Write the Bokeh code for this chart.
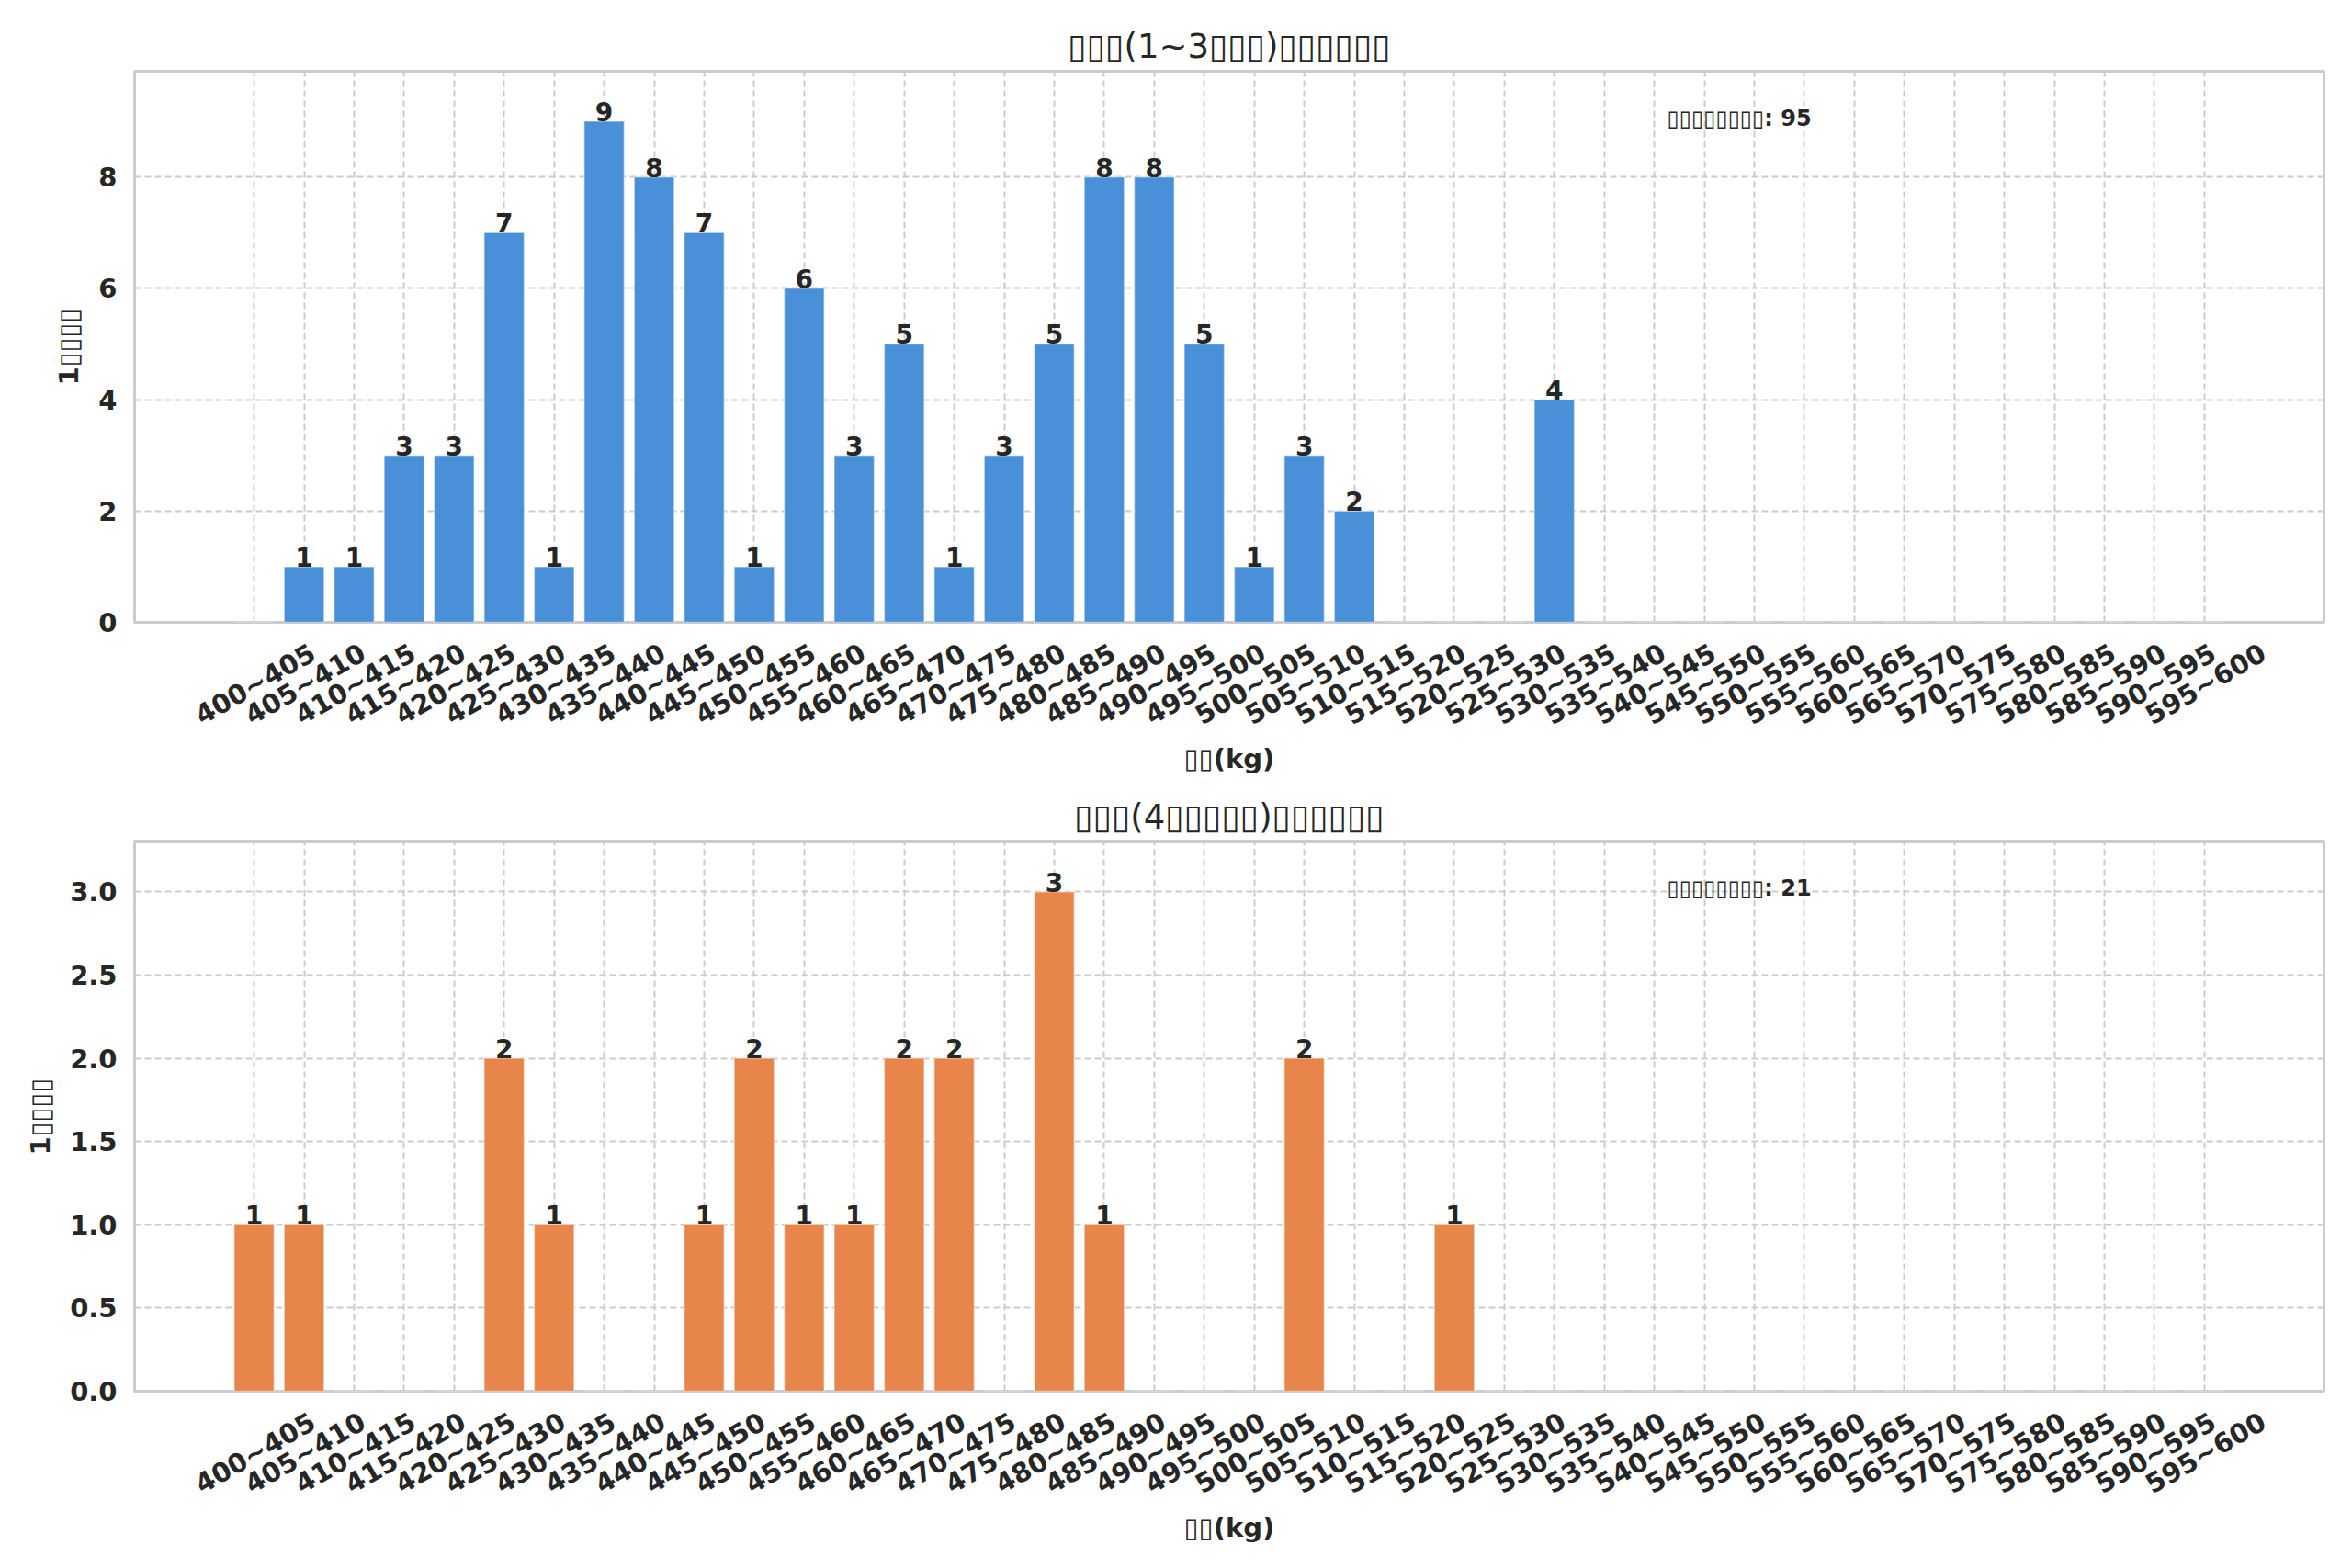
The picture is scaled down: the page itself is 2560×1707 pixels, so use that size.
import math
from bokeh.plotting import figure
from bokeh.models import Range1d, FixedTicker, CustomJSTickFormatter, ColumnDataSource
from bokeh.layouts import column
from bokeh.embed import file_html
from bokeh.resources import INLINE
from bokeh.core.properties import value

# ---------------- data ----------------
categories = ["%d~%d" % (400 + 5 * i, 405 + 5 * i) for i in range(40)]

counts_top = [0, 1, 1, 3, 3, 7, 1, 9, 8, 7, 1, 6, 3, 5, 1, 3, 5, 8, 8, 5,
              1, 3, 2, 0, 0, 0, 4, 0, 0, 0, 0, 0, 0, 0, 0, 0, 0, 0, 0, 0]
counts_bottom = [1, 1, 0, 0, 0, 2, 1, 0, 0, 1, 2, 1, 1, 2, 2, 0, 3, 1, 0, 0,
                 0, 2, 0, 0, 1, 0, 0, 0, 0, 0, 0, 0, 0, 0, 0, 0, 0, 0, 0, 0]

T = "\u25af"
title_top = T * 3 + "(1~3" + T * 3 + ")" + T * 6
title_bottom = T * 3 + "(4" + T * 5 + ")" + T * 6
xlabel = T * 2 + "(kg)"
ylabel = "1" + T * 4
note_label = T * 8

yticks_top = [0, 2, 4, 6, 8]
yticks_bottom = [0.0, 0.5, 1.0, 1.5, 2.0, 2.5, 3.0]

FONT = "DejaVu Sans"
TXT = "#262626"
LABEL_OFF = 1.18


def make_fig(counts, color, title, yticks, yfmt, height, border_top, border_bottom):
    n = len(categories)
    pad = 0.05 * (n - 1 + 0.8)
    xr = Range1d(-0.4 - pad, n - 1 + 0.4 + pad)
    ymax = max(counts) * 1.1
    yr = Range1d(0, ymax)
    p = figure(width=2560, height=height, x_range=xr, y_range=yr,
               output_backend="svg", toolbar_location=None,
               min_border_left=146, min_border_right=31,
               min_border_top=border_top, min_border_bottom=border_bottom)
    p.background_fill_color = "white"
    p.border_fill_color = "white"
    p.outline_line_color = "#cccccc"
    p.outline_line_width = 3

    p.title.text = title
    p.title.align = "center"
    p.title.text_font = FONT
    p.title.text_font_size = "37px"
    p.title.text_font_style = "normal"
    p.title.text_color = TXT
    p.title.standoff = 12

    xs = list(range(n))
    src = ColumnDataSource(dict(x=xs, top=counts))
    p.vbar(x="x", top="top", width=0.8, source=src, fill_color=color,
           line_color="white", line_alpha=0.45, line_width=1.5)

    lx = [i for i in xs if counts[i] > 0]
    ly = [counts[i] for i in lx]
    lt = [str(counts[i]) for i in lx]
    p.text(x=lx, y=ly, text=lt, text_align="center", text_baseline="bottom",
           text_font=value(FONT), text_font_style="bold", text_font_size="28px",
           text_color=TXT)

    total = sum(counts)
    nx = xr.start + 0.7 * (xr.end - xr.start)
    p.text(x=[nx], y=[0.915 * ymax], text=["%s: %d" % (note_label, total)],
           text_align="left", text_baseline="middle",
           text_font=value(FONT), text_font_style="bold", text_font_size="24px",
           text_color=TXT)

    # x axis
    xa = p.xaxis[0]
    xa.ticker = FixedTicker(ticks=[i + LABEL_OFF for i in xs])
    xa.formatter = CustomJSTickFormatter(args=dict(labels=categories),
                                         code="return labels[index];")
    xa.major_label_orientation = math.pi / 6
    xa.axis_label = xlabel
    # y axis
    ya = p.yaxis[0]
    ya.ticker = FixedTicker(ticks=yticks)
    ya.formatter = CustomJSTickFormatter(code="return tick.toFixed(%d);" % yfmt)
    ya.axis_label = ylabel

    for ax in (xa, ya):
        ax.axis_line_color = None
        ax.major_tick_line_color = None
        ax.minor_tick_line_color = None
        ax.major_tick_in = 0
        ax.major_tick_out = 0
        ax.minor_tick_out = 0
        ax.major_label_text_font = FONT
        ax.major_label_text_font_style = "bold"
        ax.major_label_text_font_size = "29px"
        ax.major_label_text_color = TXT
        ax.axis_label_text_font = FONT
        ax.axis_label_text_font_style = "bold"
        ax.axis_label_text_font_size = "29px"
        ax.axis_label_text_color = TXT
    xa.major_label_standoff = 31
    xa.axis_label_standoff = -5
    ya.major_label_standoff = 19
    ya.axis_label_standoff = 12

    p.xgrid.ticker = FixedTicker(ticks=xs)
    for g in (p.xgrid[0], p.ygrid[0]):
        g.grid_line_color = "#cccccc"
        g.grid_line_width = 2
        g.grid_line_dash = "7 4"
    return p


p1 = make_fig(counts_top, "#4a90d9", title_top, yticks_top, 0, 855, 77, 178)
p2 = make_fig(counts_bottom, "#e8854b", title_bottom, yticks_bottom, 1, 852, 61, 193)

layout = column(p1, p2)
open("out.html", "w").write(file_html(layout, INLINE))
